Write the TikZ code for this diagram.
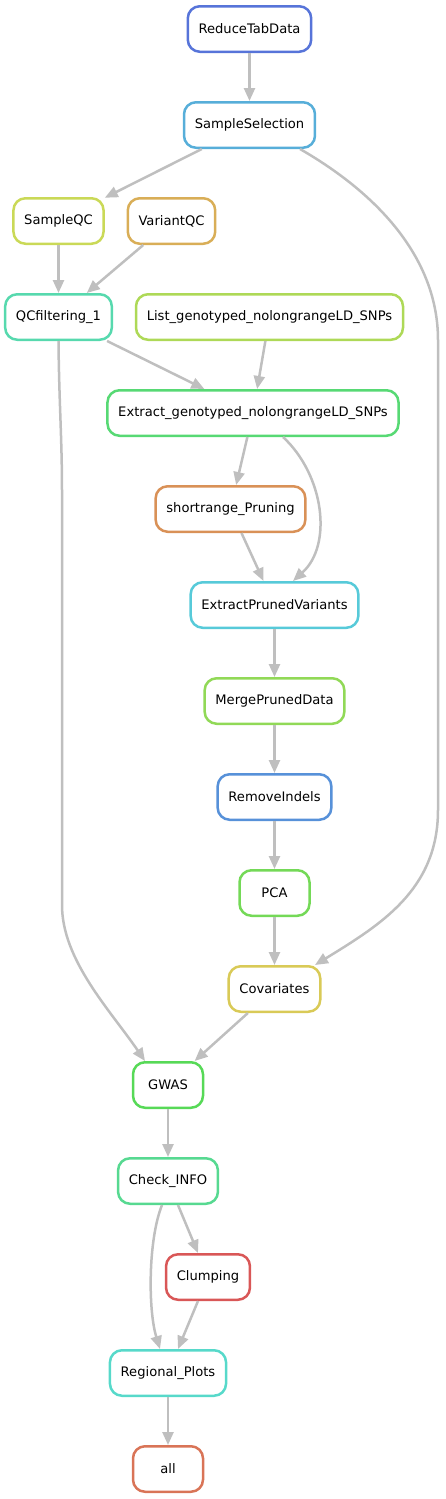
\documentclass[tikz,border=0pt]{standalone}
\usepackage{fontspec}
\setmainfont{DejaVu Sans}
\usepackage{tikz}
\usetikzlibrary{arrows.meta, positioning}
\definecolor{h00}{RGB}{217,87,87}
\definecolor{h01}{RGB}{217,116,87}
\definecolor{h02}{RGB}{217,145,87}
\definecolor{h03}{RGB}{217,174,87}
\definecolor{h04}{RGB}{217,202,87}
\definecolor{h05}{RGB}{202,217,87}
\definecolor{h06}{RGB}{174,217,87}
\definecolor{h07}{RGB}{145,217,87}
\definecolor{h08}{RGB}{116,217,87}
\definecolor{h09}{RGB}{87,217,87}
\definecolor{h10}{RGB}{87,217,116}
\definecolor{h11}{RGB}{87,217,145}
\definecolor{h12}{RGB}{87,217,174}
\definecolor{h13}{RGB}{87,217,202}
\definecolor{h14}{RGB}{87,202,217}
\definecolor{h15}{RGB}{87,174,217}
\definecolor{h16}{RGB}{87,145,217}
\definecolor{h17}{RGB}{87,116,217}
\tikzstyle{rule}=[rectangle, rounded corners=12pt, draw, line width=2.5pt, minimum height=45.5pt, minimum width=70pt, inner xsep=10.75pt, font=\fontsize{13.1}{15}\selectfont]
\tikzstyle{dep}=[{Triangle[length=13pt,width=11pt]}-, draw=black!25, line width=2.5pt]

\begin{document}
\begin{tikzpicture}[x=1pt, y=-1pt, node distance=96pt]
    \useasboundingbox (0,0) rectangle (445,1499);
    \node[rule, draw=h17] (reduce) at (249.5,29) {ReduceTabData};
    \node[rule, draw=h15] (selection) [below of=reduce] {SampleSelection}
	edge [dep] (reduce);
    \node[rule, draw=h05] (sampleqc) at (58.5,221) {SampleQC}
	edge [dep] (selection);
    \node[rule, draw=h03] (variantqc) at (171.5,221) {VariantQC};
    \node[rule, draw=h12] (qcfilter) [below of=sampleqc] {QCfiltering\_1}
	edge [dep] (sampleqc) edge [dep] (variantqc);
    \node[rule, draw=h06] (listsnps) at (269.5,317) {List\_genotyped\_nolongrangeLD\_SNPs};
    \node[rule, draw=h10] (xgeno) at (253,413) {Extract\_genotyped\_nolongrangeLD\_SNPs}
	edge [dep] (qcfilter) edge [dep] (listsnps);
    \node[rule, draw=h02] (pruning) at (230.5,509) {shortrange\_Pruning}
	edge [dep] (xgeno);
    \node[rule, draw=h14] (xpruned) at (274.5,605) {ExtractPrunedVariants}
	edge [dep] (pruning);
    \node[rule, draw=h07] (merge) [below of=xpruned] {MergePrunedData}
	edge [dep] (xpruned);
    \node[rule, draw=h16] (indels) [below of=merge] {RemoveIndels}
	edge [dep] (merge);
    \node[rule, draw=h08] (pca) [below of=indels] {PCA}
	edge [dep] (indels);
    \node[rule, draw=h04] (cov) [below of=pca] {Covariates}
	edge [dep] (pca);
    \node[rule, draw=h09] (gwas) at (168,1085) {GWAS}
	edge [dep] (cov);
    \node[rule, draw=h11] (check) [below of=gwas] {Check\_INFO}
	edge [dep] (gwas);
    \node[rule, draw=h00] (clump) at (208,1277) {Clumping}
	edge [dep] (check);
    \node[rule, draw=h13] (regional) at (168,1373) {Regional\_Plots}
	edge [dep] (clump);
    \node[rule, draw=h01] (all) [below of=regional] {all}
	edge [dep] (regional);

    \draw [dep] ([xshift=40.5pt]cov.north) .. controls (380,925) and (438,890) .. (438,810)
	-- (438,340) .. controls (438,260) and (380,195) .. ([xshift=50.5pt]selection.south);
    \draw [dep] ([xshift=-23pt]gwas.north) .. controls (110,1010) and (62,960) .. (62,905)
	-- (62,490) .. controls (62,440) and (59,400) .. (qcfilter.south);
    \draw [dep] ([xshift=18.5pt]xpruned.north) .. controls (333,545) and (324,475) .. ([xshift=30pt]xgeno.south);
    \draw [dep] ([xshift=-8pt]regional.north) .. controls (148,1310) and (148,1240) .. ([xshift=-6pt]check.south);
\end{tikzpicture}
\end{document}
